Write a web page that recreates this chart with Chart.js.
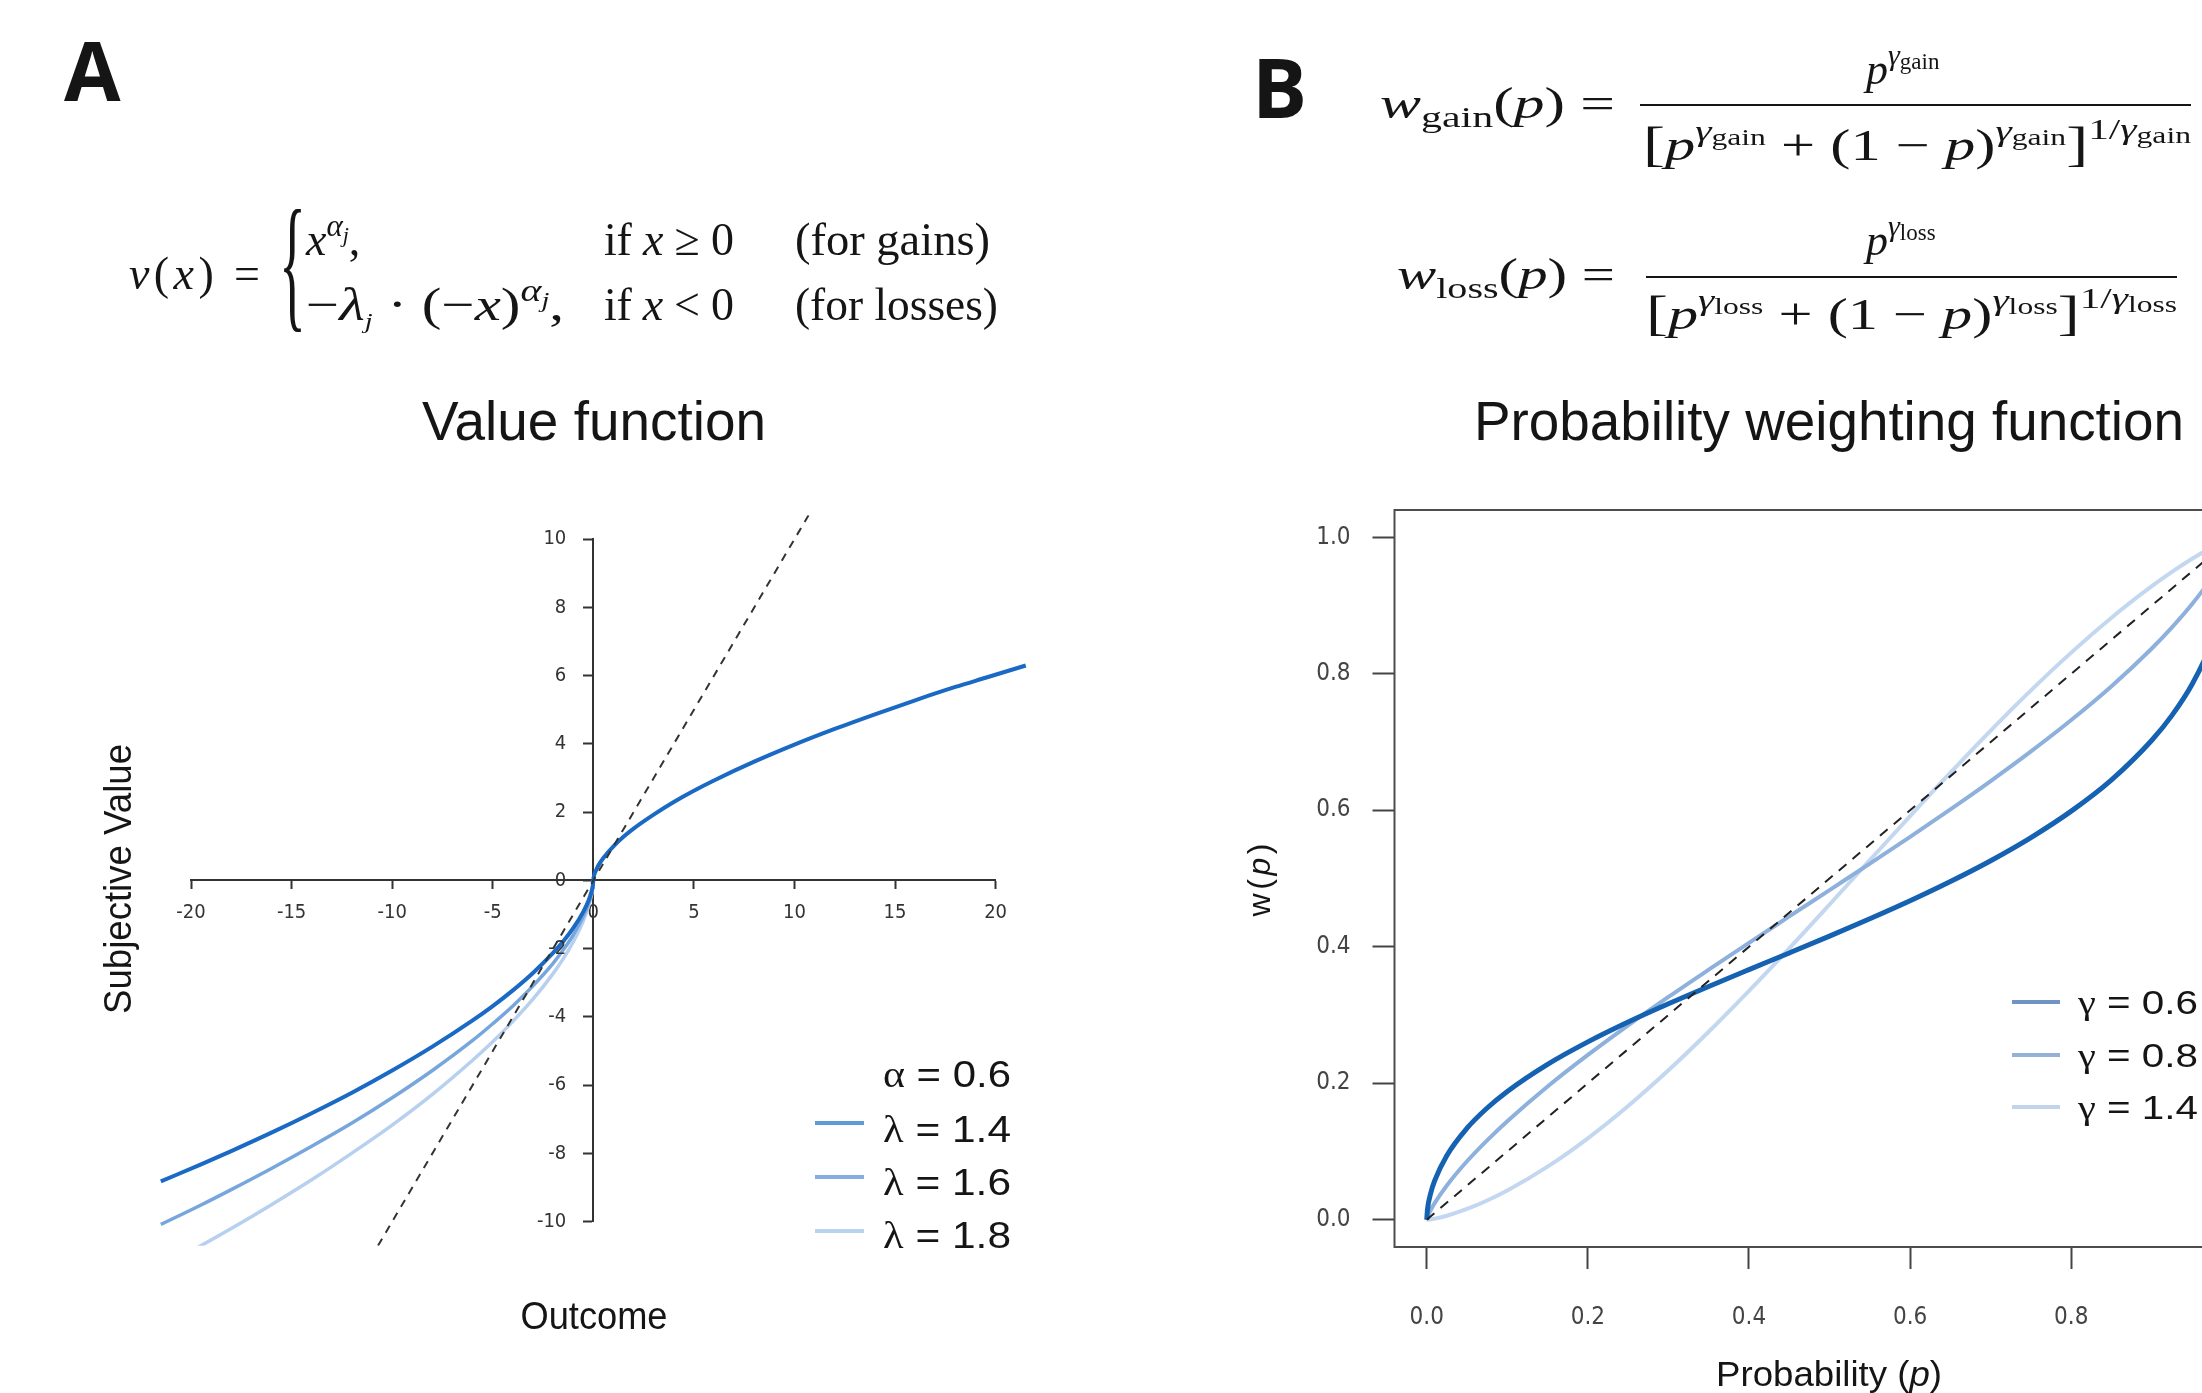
<!DOCTYPE html>
<html>
<head>
<meta charset="utf-8">
<title>Value function and probability weighting function</title>
<script src="https://cdn.jsdelivr.net/npm/chart.js@4.4.1/dist/chart.umd.min.js"></script>
<style>
  html, body { margin: 0; padding: 0; background: #fff; overflow: hidden; width: 2202px; height: 1393px; }
  canvas { position: absolute; }
  #valueChart { left: 0; top: 480px; }
  #probChart { left: 1280px; top: 480px; }
  #labels { position: absolute; left: 0; top: 0; pointer-events: none; }
</style>
</head>
<body>
<canvas id="valueChart" width="1100" height="800"></canvas>
<canvas id="probChart" width="1000" height="900"></canvas>

<svg id="labels" width="2202" height="1393" xmlns="http://www.w3.org/2000/svg" font-family="'Liberation Sans', Arial, sans-serif" fill="#151515">
  <!-- panel letters -->
  <text x="64" y="101" font-family="'Open Sans', sans-serif" font-weight="700" font-size="82">A</text>
  <text x="1252" y="118" font-family="'Open Sans', sans-serif" font-weight="700" font-size="82">B</text>

  <!-- value function formula -->
  <g font-family="'Liberation Serif', 'DejaVu Serif', serif" font-size="46">
    <text x="129" y="289" textLength="131" lengthAdjust="spacing"><tspan font-style="italic">v</tspan>(<tspan font-style="italic">x</tspan>) =</text>
    <text transform="translate(279,312) scale(0.38,1)" font-size="148">{</text>
    <text x="306" y="255"><tspan font-style="italic">x</tspan><tspan font-style="italic" font-size="31" dy="-19">α</tspan><tspan font-style="italic" font-size="22" dy="6">j</tspan><tspan dy="13">,</tspan></text>
    <text x="604" y="255" textLength="130" lengthAdjust="spacing">if <tspan font-style="italic">x</tspan> ≥ 0</text>
    <text x="795" y="255" textLength="195" lengthAdjust="spacingAndGlyphs">(for gains)</text>
    <text x="306" y="320" textLength="258" lengthAdjust="spacingAndGlyphs">−<tspan font-style="italic">λ</tspan><tspan font-style="italic" font-size="22" dy="8">j</tspan><tspan dy="-8"> · (−</tspan><tspan font-style="italic">x</tspan>)<tspan font-style="italic" font-size="31" dy="-19">α</tspan><tspan font-style="italic" font-size="22" dy="6">j</tspan><tspan dy="13">,</tspan></text>
    <text x="604" y="320" textLength="130" lengthAdjust="spacing">if <tspan font-style="italic">x</tspan> &lt; 0</text>
    <text x="795" y="320" textLength="203" lengthAdjust="spacingAndGlyphs">(for losses)</text>
  </g>

  <!-- probability weighting formulas -->
  <g font-family="'Liberation Serif', 'DejaVu Serif', serif" font-size="44">
    <text x="1380" y="118" textLength="235" lengthAdjust="spacingAndGlyphs"><tspan font-style="italic">w</tspan><tspan font-size="30" dy="9">gain</tspan><tspan dy="-9">(</tspan><tspan font-style="italic">p</tspan>) =</text>
    <line x1="1640" y1="105" x2="2191" y2="105" stroke="#151515" stroke-width="2"/>
    <text x="1866" y="84"><tspan font-style="italic">p</tspan><tspan font-style="italic" font-size="30" dy="-19">γ</tspan><tspan font-size="23" dy="4">gain</tspan></text>
    <text x="1643" y="160" textLength="548" lengthAdjust="spacingAndGlyphs"><tspan font-size="48">[</tspan><tspan font-style="italic">p</tspan><tspan font-style="italic" font-size="30" dy="-19">γ</tspan><tspan font-size="23" dy="4">gain</tspan><tspan dy="15"> + (1 − </tspan><tspan font-style="italic">p</tspan>)<tspan font-style="italic" font-size="30" dy="-19">γ</tspan><tspan font-size="23" dy="4">gain</tspan><tspan font-size="48" dy="15">]</tspan><tspan font-size="30" dy="-21">1/</tspan><tspan font-style="italic" font-size="30">γ</tspan><tspan font-size="23" dy="4">gain</tspan></text>

    <text x="1397" y="289" textLength="218" lengthAdjust="spacingAndGlyphs"><tspan font-style="italic">w</tspan><tspan font-size="30" dy="9">loss</tspan><tspan dy="-9">(</tspan><tspan font-style="italic">p</tspan>) =</text>
    <line x1="1646" y1="277" x2="2177" y2="277" stroke="#151515" stroke-width="2"/>
    <text x="1866" y="255"><tspan font-style="italic">p</tspan><tspan font-style="italic" font-size="30" dy="-19">γ</tspan><tspan font-size="23" dy="4">loss</tspan></text>
    <text x="1646" y="329" textLength="531" lengthAdjust="spacingAndGlyphs"><tspan font-size="48">[</tspan><tspan font-style="italic">p</tspan><tspan font-style="italic" font-size="30" dy="-19">γ</tspan><tspan font-size="23" dy="4">loss</tspan><tspan dy="15"> + (1 − </tspan><tspan font-style="italic">p</tspan>)<tspan font-style="italic" font-size="30" dy="-19">γ</tspan><tspan font-size="23" dy="4">loss</tspan><tspan font-size="48" dy="15">]</tspan><tspan font-size="30" dy="-21">1/</tspan><tspan font-style="italic" font-size="30">γ</tspan><tspan font-size="23" dy="4">loss</tspan></text>
  </g>

  <!-- titles -->
  <text x="594" y="440" text-anchor="middle" font-size="55" textLength="344" lengthAdjust="spacingAndGlyphs">Value function</text>
  <text x="1829" y="440" text-anchor="middle" font-size="55" textLength="710" lengthAdjust="spacingAndGlyphs">Probability weighting function</text>

  <!-- axis titles -->
  <text transform="translate(131,879) rotate(-90)" text-anchor="middle" font-size="38" textLength="270" lengthAdjust="spacingAndGlyphs">Subjective Value</text>
  <text x="594" y="1329" text-anchor="middle" font-size="38" textLength="147" lengthAdjust="spacingAndGlyphs">Outcome</text>
  <text transform="translate(1270,880) rotate(-90)" text-anchor="middle" font-size="32" textLength="73" lengthAdjust="spacing">w(<tspan font-style="italic">p</tspan>)</text>
  <text x="1829" y="1386" text-anchor="middle" font-size="35" textLength="226" lengthAdjust="spacingAndGlyphs">Probability (<tspan font-style="italic">p</tspan>)</text>

  <!-- legend, panel A -->
  <line x1="815" y1="1123" x2="864" y2="1123" stroke="#5f9bd8" stroke-width="4"/>
  <line x1="815" y1="1177" x2="864" y2="1177" stroke="#86aee0" stroke-width="4"/>
  <line x1="815" y1="1231" x2="864" y2="1231" stroke="#b9d2ef" stroke-width="4"/>
  <g font-size="37">
    <text x="883" y="1087" textLength="128" lengthAdjust="spacingAndGlyphs"><tspan font-family="'Liberation Serif', serif">α</tspan> = 0.6</text>
    <text x="883" y="1142" textLength="128" lengthAdjust="spacingAndGlyphs"><tspan font-family="'Liberation Serif', serif">λ</tspan> = 1.4</text>
    <text x="883" y="1195" textLength="128" lengthAdjust="spacingAndGlyphs"><tspan font-family="'Liberation Serif', serif">λ</tspan> = 1.6</text>
    <text x="883" y="1248" textLength="128" lengthAdjust="spacingAndGlyphs"><tspan font-family="'Liberation Serif', serif">λ</tspan> = 1.8</text>
  </g>

  <!-- legend, panel B -->
  <line x1="2012" y1="1002" x2="2060" y2="1002" stroke="#6e93c4" stroke-width="4"/>
  <line x1="2012" y1="1055" x2="2060" y2="1055" stroke="#94b2d8" stroke-width="4"/>
  <line x1="2012" y1="1107" x2="2060" y2="1107" stroke="#c2d4ec" stroke-width="4"/>
  <g font-size="34">
    <text x="2078" y="1014" textLength="120" lengthAdjust="spacingAndGlyphs"><tspan font-family="'Liberation Serif', serif">γ</tspan> = 0.6</text>
    <text x="2078" y="1067" textLength="120" lengthAdjust="spacingAndGlyphs"><tspan font-family="'Liberation Serif', serif">γ</tspan> = 0.8</text>
    <text x="2078" y="1119" textLength="120" lengthAdjust="spacingAndGlyphs"><tspan font-family="'Liberation Serif', serif">γ</tspan> = 1.4</text>
  </g>
</svg>

<script>
// ---- panel A: value function ----
var outcomeX     = [0, 0.02, 0.05, 0.1, 0.25, 0.5, 1, 1.5, 2, 3, 4, 5, 6, 8, 10, 12, 14, 16, 18, 19.5, 21.5];
var gainValue    = [0, 0.10, 0.17, 0.25, 0.44, 0.66, 1.00, 1.28, 1.52, 1.93, 2.30, 2.63, 2.93, 3.48, 3.98, 4.44, 4.87, 5.28, 5.67, 5.94, 6.30];
var lossLambda14 = [0, -0.13, -0.23, -0.35, -0.61, -0.92, -1.40, -1.79, -2.12, -2.71, -3.22, -3.68, -4.10, -4.87, -5.57, -6.22, -6.82, -7.39, -7.93, -8.32, -8.82];
var lossLambda16 = [0, -0.15, -0.27, -0.40, -0.70, -1.06, -1.60, -2.04, -2.43, -3.09, -3.68, -4.20, -4.69, -5.57, -6.37, -7.11, -7.79, -8.44, -9.06, -9.51, -10.08];
var lossLambda18 = [0, -0.17, -0.30, -0.45, -0.78, -1.19, -1.80, -2.30, -2.73, -3.48, -4.13, -4.73, -5.27, -6.27, -7.17, -7.99, -8.77, -9.50, -10.20, -10.70, -11.34];
var identityA    = [-10.7, 10.7];
var outcomeTicks = [-20, -15, -10, -5, 0, 5, 10, 15, 20];
var subjTicks    = [-10, -8, -6, -4, -2, 0, 2, 4, 6, 8, 10];

// ---- panel B: probability weighting ----
var probP     = [0, 0.001, 0.005, 0.01, 0.025, 0.05, 0.075, 0.1, 0.15, 0.2, 0.25, 0.3, 0.35, 0.4, 0.45, 0.5, 0.55, 0.6, 0.65, 0.7, 0.75, 0.8, 0.85, 0.9, 0.925, 0.95, 0.975, 0.99, 0.999, 1];
var weight06  = [0, 0.0155, 0.0391, 0.0575, 0.0941, 0.1341, 0.1637, 0.1880, 0.2277, 0.2606, 0.2897, 0.3164, 0.3418, 0.3665, 0.3909, 0.4156, 0.4410, 0.4674, 0.4956, 0.5261, 0.5600, 0.5987, 0.6446, 0.7026, 0.7391, 0.7847, 0.8476, 0.9061, 0.9745, 1];
var weight08  = [0, 0.0040, 0.0142, 0.0246, 0.0502, 0.0856, 0.1163, 0.1443, 0.1952, 0.2415, 0.2849, 0.3264, 0.3664, 0.4057, 0.4444, 0.4830, 0.5217, 0.5611, 0.6013, 0.6428, 0.6862, 0.7322, 0.7818, 0.8371, 0.8679, 0.9021, 0.9418, 0.9712, 0.9952, 1];
var weight14  = [0, 0.0001, 0.0006, 0.0016, 0.0058, 0.0157, 0.0282, 0.0428, 0.0778, 0.1193, 0.1666, 0.2189, 0.2754, 0.3353, 0.3977, 0.4619, 0.5268, 0.5915, 0.6551, 0.7168, 0.7757, 0.8310, 0.8822, 0.9283, 0.9493, 0.9685, 0.9858, 0.9948, 0.9996, 1];
var identityB = [0, 1];
var probTicks   = [0, 0.2, 0.4, 0.6, 0.8, 1.0];
var weightTicks = [0, 0.2, 0.4, 0.6, 0.8, 1.0];

var tickFamily = "'Liberation Sans Narrow', 'DejaVu Sans Condensed', 'Liberation Sans', Arial, sans-serif";

// loss side is stored as magnitudes of x, mirror them to negative outcomes
function lossPoints(loss) {
  var pts = [];
  for (var i = outcomeX.length - 1; i >= 0; i--) {
    pts.push({ x: -outcomeX[i], y: loss[i] });
  }
  return pts;
}
function gainPoints() {
  return outcomeX.map(function (x, i) { return { x: x, y: gainValue[i] }; }).slice(1);
}
function xyPoints(xs, ys) {
  return xs.map(function (x, i) { return { x: x, y: ys[i] }; });
}
function noScalePadding(scale) {
  scale.paddingLeft = 0; scale.paddingRight = 0;
  scale.paddingTop = 0; scale.paddingBottom = 0;
}

// y labels of a centred axis sit on the axis line in Chart.js, so put them left of the ticks here
var subjTickLabels = {
  id: 'subjTickLabels',
  afterDraw: function (chart) {
    var ys = chart.scales.y, xs = chart.scales.x, ctx = chart.ctx;
    var axisX = xs.getPixelForValue(0);
    ctx.save();
    ctx.font = '20px ' + tickFamily;
    ctx.fillStyle = '#333';
    ctx.textAlign = 'right';
    ctx.textBaseline = 'middle';
    subjTicks.forEach(function (v) {
      ctx.fillText(String(v), axisX - 27, ys.getPixelForValue(v));
    });
    ctx.restore();
  }
};

var valueClip = { left: 40, right: 40, top: 24, bottom: 24 };

new Chart(document.getElementById('valueChart'), {
  type: 'line',
  data: {
    datasets: [
      { label: 'reference', data: identityA.map(function (v) { return { x: v, y: v }; }),
        borderColor: '#333333', borderWidth: 2, borderDash: [8, 7], clip: valueClip },
      { label: 'λ = 1.4', data: lossPoints(lossLambda14).concat(gainPoints()),
        borderColor: '#1a69c4', borderWidth: 4, clip: valueClip },
      { label: 'λ = 1.6', data: lossPoints(lossLambda16),
        borderColor: '#77a6dc', borderWidth: 3.5, clip: valueClip },
      { label: 'λ = 1.8', data: lossPoints(lossLambda18),
        borderColor: '#b8d0ef', borderWidth: 3.5, clip: valueClip }
    ]
  },
  options: {
    responsive: false,
    animation: false,
    layout: { padding: { left: 191, right: 104.4, top: 59.2, bottom: 58.3 } },
    elements: { point: { radius: 0 }, line: { cubicInterpolationMode: 'monotone', fill: false } },
    plugins: { legend: { display: false }, tooltip: { enabled: false } },
    scales: {
      x: {
        type: 'linear', position: { y: 0 }, min: -20, max: 20,
        afterBuildTicks: function (s) { s.ticks = outcomeTicks.map(function (v) { return { value: v }; }); },
        afterFit: noScalePadding,
        grid: { drawOnChartArea: false, drawTicks: true, tickLength: 8, tickWidth: 2, tickColor: '#333' },
        border: { display: true, color: '#333', width: 2 },
        ticks: { padding: 12, color: '#333', font: { family: tickFamily, size: 20 }, maxRotation: 0, autoSkip: false,
                 callback: function (v) { return String(v); } }
      },
      y: {
        type: 'linear', position: { x: 0 }, min: -10, max: 10,
        afterBuildTicks: function (s) { s.ticks = subjTicks.map(function (v) { return { value: v }; }); },
        afterFit: noScalePadding,
        grid: { drawOnChartArea: false, drawTicks: true, tickLength: 9, tickWidth: 2, tickColor: '#333' },
        border: { display: true, color: '#333', width: 2 },
        ticks: { display: false }
      }
    }
  },
  plugins: [subjTickLabels]
});

var frameBox = {
  id: 'frameBox',
  afterDatasetsDraw: function (chart) {
    var a = chart.chartArea, ctx = chart.ctx;
    ctx.save();
    ctx.strokeStyle = '#4d4d4d';
    ctx.lineWidth = 2;
    ctx.strokeRect(a.left, a.top, a.right - a.left, a.bottom - a.top);
    ctx.restore();
  }
};

new Chart(document.getElementById('probChart'), {
  type: 'line',
  data: {
    datasets: [
      { label: 'reference', data: identityB.map(function (v) { return { x: v, y: v }; }),
        borderColor: '#222222', borderWidth: 2, borderDash: [10, 8] },
      { label: 'γ = 0.6', data: xyPoints(probP, weight06), borderColor: '#1662b2', borderWidth: 5 },
      { label: 'γ = 0.8', data: xyPoints(probP, weight08), borderColor: '#8db0dc', borderWidth: 4 },
      { label: 'γ = 1.4', data: xyPoints(probP, weight14), borderColor: '#c3d7f0', borderWidth: 4 }
    ]
  },
  options: {
    responsive: false,
    animation: false,
    layout: { padding: { left: 34.5, right: 15.4, top: 30, bottom: 53 } },
    elements: { point: { radius: 0 }, line: { cubicInterpolationMode: 'monotone', fill: false } },
    plugins: { legend: { display: false }, tooltip: { enabled: false } },
    scales: {
      x: {
        type: 'linear', position: 'bottom', min: -0.04, max: 1.04,
        afterBuildTicks: function (s) { s.ticks = probTicks.map(function (v) { return { value: v }; }); },
        afterFit: function (s) { noScalePadding(s); s.height = 80; },
        grid: { drawOnChartArea: false, drawTicks: true, tickLength: 22, tickWidth: 2, tickColor: '#444' },
        border: { display: false },
        ticks: { padding: 34, color: '#444', font: { family: tickFamily, size: 24 }, maxRotation: 0, autoSkip: false,
                 callback: function (v) { return v.toFixed(1); } }
      },
      y: {
        type: 'linear', position: 'left', min: -0.04, max: 1.04,
        afterBuildTicks: function (s) { s.ticks = weightTicks.map(function (v) { return { value: v }; }); },
        afterFit: function (s) { noScalePadding(s); s.width = 80; },
        grid: { drawOnChartArea: false, drawTicks: true, tickLength: 22, tickWidth: 2, tickColor: '#444' },
        border: { display: false },
        ticks: { padding: 22, color: '#444', font: { family: tickFamily, size: 24 }, autoSkip: false,
                 callback: function (v) { return v.toFixed(1); } }
      }
    }
  },
  plugins: [frameBox]
});
</script>
</body>
</html>
